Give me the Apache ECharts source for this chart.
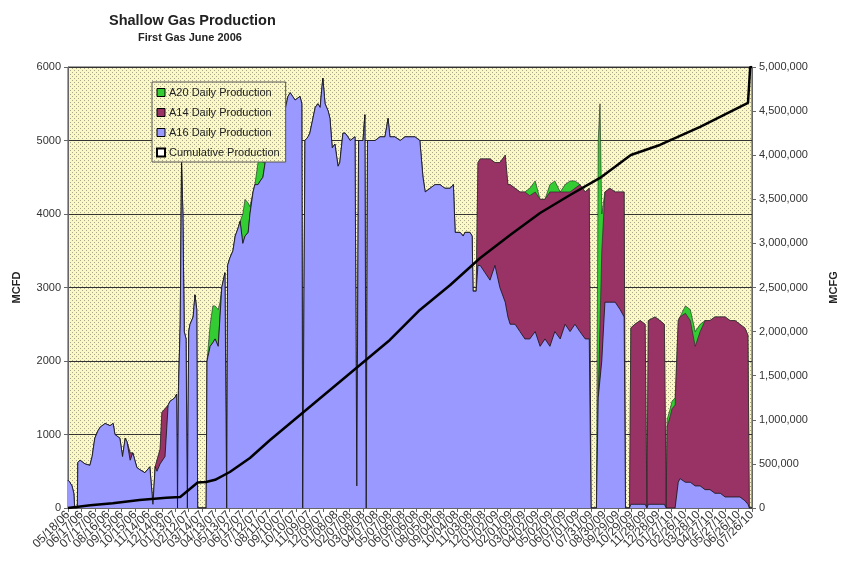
<!DOCTYPE html>
<html>
<head>
<meta charset="utf-8">
<script src="https://cdn.jsdelivr.net/npm/echarts@6/dist/echarts.min.js"></script>
<style>
  html,body{margin:0;padding:0;background:#fff;}
  #chart{width:842px;height:563px;}
</style>
</head>
<body>
<div id="chart"></div>
<script>
// x tick labels, one every 30 days from the first gas date
var tickLabels = ['05/18/06','06/17/06','07/17/06','08/16/06','09/15/06','10/15/06','11/14/06','12/14/06',
  '01/13/07','02/12/07','03/14/07','04/13/07','05/13/07','06/12/07','07/12/07','08/11/07','09/10/07',
  '10/10/07','11/09/07','12/09/07','01/08/08','02/07/08','03/08/08','04/07/08','05/07/08','06/06/08',
  '07/06/08','08/05/08','09/04/08','10/04/08','11/03/08','12/03/08','01/02/09','02/01/09','03/03/09',
  '04/02/09','05/02/09','06/01/09','07/01/09','07/31/09','08/30/09','09/29/09','10/29/09','11/28/09',
  '12/28/09','01/27/10','02/26/10','03/28/10','04/27/10','05/27/10','06/26/10','07/26/10'];

// days since 05/18/06 for each production reading
var days = [0,4,9,13,15,21,22,27,38,49,
  54,60,67,72,83,94,101,105,116,122,
  128,132,139,145,154,161,172,183,190,195,
  199,206,210,217,224,228,239,243,245,247,
  251,254,257,260,264,267,270,273,280,284,
  288,290,309,311,318,324,329,336,340,344,
  351,355,357,362,369,374,380,385,391,396,
  403,407,414,418,425,430,436,441,447,452,
  463,474,485,492,497,508,519,523,525,528,
  530,537,541,553,559,564,570,575,582,586,
  591,597,604,608,615,620,626,631,642,646,
  650,660,664,667,670,687,698,709,716,720,
  731,743,754,765,776,787,794,799,810,821,
  832,843,855,862,866,877,884,888,899,904,
  906,913,917,922,933,944,955,966,978,984,
  989,1000,1011,1022,1033,1045,1056,1067,1078,1089,
  1101,1112,1123,1134,1145,1157,1166,1170,1182,1186,
  1190,1194,1201,1212,1224,1235,1244,1247,1256,1259,
  1268,1280,1291,1295,1298,1313,1324,1334,1338,1340,
  1347,1351,1358,1365,1369,1381,1392,1403,1414,1425,
  1436,1447,1459,1470,1481,1492,1503,1514,1521,1524,
  1530];

var a16 = [380,350,300,200,0,0,620,650,600,580,
  700,950,1050,1100,1150,1120,1150,1000,950,700,
  950,900,650,750,550,520,480,560,50,560,
  500,600,600,700,1400,1450,1500,1550,0,1600,
  2500,4700,4000,2400,2300,0,2400,2500,2600,2900,
  2700,0,0,2000,2200,2250,2300,2200,2600,3000,
  3200,0,3300,3400,3500,3700,3800,3900,3600,3700,
  3750,4000,4300,4400,4400,4450,4500,4700,4900,5000,
  5200,5300,5400,5600,5650,5550,5600,5500,0,0,
  5000,5050,5100,5450,5500,5450,5850,5500,5400,5300,
  4900,4950,4650,4700,5100,5100,5050,5000,5050,300,
  5000,5000,5350,0,5000,5000,5050,5050,5300,5050,
  5050,5000,5050,5050,5050,5000,4500,4300,4350,4400,
  4400,4350,4350,4400,3750,3750,3700,3750,3750,3700,
  2950,2950,3300,3300,3200,3100,3300,3000,2800,2600,
  2500,2500,2400,2300,2300,2400,2200,2300,2200,2400,
  2300,2500,2400,2500,2400,2300,2300,0,0,1500,
  1500,2000,2800,2800,2800,2700,2600,0,0,50,
  50,50,50,0,50,50,50,50,0,0,
  0,0,0,350,400,350,350,300,300,250,
  250,200,200,150,150,150,150,100,50,0,
  0];

var a14 = [0,0,0,0,0,0,0,0,0,0,
  0,0,0,0,0,0,0,0,0,0,
  0,0,100,0,0,0,0,0,0,0,
  150,200,700,650,0,0,0,0,0,0,
  0,0,0,0,0,0,0,0,0,0,
  0,0,0,0,0,0,0,0,0,0,
  0,0,0,0,0,0,0,0,0,0,
  0,0,0,0,0,0,0,0,0,0,
  0,0,0,0,0,0,0,0,0,0,
  0,0,0,0,0,0,0,0,0,0,
  0,0,0,0,0,0,0,0,0,0,
  0,0,0,0,0,0,0,0,0,0,
  0,0,0,0,0,0,0,0,0,0,
  0,0,0,0,0,0,0,0,0,0,
  0,0,1400,1450,1550,1650,1400,1700,2000,1800,
  1900,1850,1900,2000,1950,1900,2000,1900,2100,1900,
  2000,1800,1900,1850,2000,2000,2050,0,0,0,
  0,1500,1500,1550,1500,1600,1700,0,0,2400,
  2450,2500,2450,0,2500,2550,2500,2450,0,1100,
  1250,1350,1400,2200,2200,2300,2200,1900,2100,2300,
  2300,2400,2400,2450,2400,2400,2350,2350,2300,0,
  0];

var a20 = [0,0,0,0,0,0,0,0,0,0,
  0,0,0,0,0,0,0,0,0,0,
  0,0,0,0,0,0,0,0,0,0,
  0,0,0,0,0,0,0,0,0,0,
  0,0,0,0,0,0,0,0,0,0,
  0,0,0,0,300,500,450,500,200,0,
  0,0,0,0,0,0,0,0,400,500,
  400,100,0,0,300,350,200,0,0,0,
  0,0,0,0,0,0,0,0,0,0,
  0,0,0,0,0,0,0,0,0,0,
  0,0,0,0,0,0,0,0,0,0,
  0,0,0,0,0,0,0,0,0,0,
  0,0,0,0,0,0,0,0,0,0,
  0,0,0,0,0,0,0,0,0,0,
  0,0,0,0,0,0,0,0,0,0,
  0,0,0,0,100,150,0,0,100,150,
  0,100,150,100,0,0,0,0,0,3500,
  4000,500,0,0,0,0,0,0,0,0,
  0,0,0,0,0,0,0,0,0,100,
  100,100,100,0,0,100,150,200,100,0,
  0,0,0,0,0,0,0,0,0,0,
  0];

// cumulative production (MCFG)
var cumDays = [0,50,100,160,220,251,290,309,329,362,407,452,519,586,653,720,787,855,922,989,
  1056,1123,1190,1259,1324,1414,1521,1526,1530];
var cumGas = [0,30000,55000,90000,115000,125000,290000,295000,320000,408000,567000,771000,1054000,
  1338000,1621000,1905000,2245000,2528000,2834000,3095000,3345000,3549000,3742000,4002000,4116000,
  4320000,4592000,5000000,5000000];

// stacked tops: each well is drawn from zero up to its running total, later ones on top
function stackTop(lists){
  return days.map(function(d,i){
    var s = 0;
    lists.forEach(function(l){ s += l[i]; });
    return [d, s];
  });
}

function pair(xs, ys){
  return xs.map(function(x,i){ return [x, ys[i]]; });
}

// dotted yellow fill like the excel plot area
function dots(){
  var c = document.createElement('canvas');
  c.width = 4; c.height = 4;
  var g = c.getContext('2d');
  g.fillStyle = '#fbf8c8'; g.fillRect(0,0,4,4);
  g.fillStyle = '#aaa78a';
  g.fillRect(0,0,1,1); g.fillRect(2,2,1,1);
  return {image: c, repeat: 'repeat'};
}

var myChart = echarts.init(document.getElementById('chart'));
var font = 'Arial, "Liberation Sans", sans-serif';

myChart.setOption({
  animation: false,
  title: [
    {text: 'Shallow Gas Production', left: 104, top: 8,
     textStyle: {fontFamily: font, fontSize: 14.5, fontWeight: 'bold', color: '#222'}},
    {text: 'First Gas June 2006', left: 133, top: 27,
     textStyle: {fontFamily: font, fontSize: 11, fontWeight: 'bold', color: '#222'}}
  ],
  legend: {
    orient: 'vertical',
    left: 152, top: 82, z: 20,
    padding: [4, 6, 3, 4],
    itemGap: 7,
    itemWidth: 8, itemHeight: 8,
    icon: 'rect',
    backgroundColor: dots(),
    borderColor: '#555', borderWidth: 1,
    textStyle: {fontFamily: font, fontSize: 11, color: '#222', lineHeight: 13, padding: [0,0,0,-1]},
    itemStyle: {borderColor: '#000', borderWidth: 1},
    data: [
      {name: 'A20 Daily Production'},
      {name: 'A14 Daily Production'},
      {name: 'A16 Daily Production'},
      {name: 'Cumulative Production', itemStyle: {color: '#fff', borderColor: '#000', borderWidth: 2}}
    ]
  },
  grid: {
    left: 68, right: 90, top: 67, bottom: 55,
    outerBoundsMode: 'none',
    show: true,
    backgroundColor: dots(),
    borderColor: '#444', borderWidth: 1
  },
  xAxis: [
    {
      // day scale that the readings sit on
      type: 'value', min: 0, max: 1530, show: false, position: 'bottom'
    },
    {
      // date labels every 30 days, all shown like the excel axis
      type: 'category', data: tickLabels, boundaryGap: false, position: 'bottom',
      axisLine: {lineStyle: {color: '#666'}},
      axisTick: {length: 4, interval: 0, lineStyle: {color: '#666'}},
      splitLine: {show: false},
      axisLabel: {
        interval: 0, rotate: 45, margin: 5,
        fontFamily: font, fontSize: 12, color: '#333'
      }
    }
  ],
  yAxis: [
    {
      type: 'value', min: 0, max: 6000, interval: 1000,
      name: 'MCFD', nameLocation: 'middle', nameGap: 46,
      nameTextStyle: {fontFamily: font, fontSize: 11, fontWeight: 'bold', color: '#222'},
      axisLine: {show: true, lineStyle: {color: '#666'}},
      axisTick: {show: true, length: 4},
      axisLabel: {fontFamily: font, fontSize: 11, color: '#333', margin: 7,
        formatter: function(v){ return String(v); }},
      splitLine: {show: true, lineStyle: {color: '#333', width: 1}}
    },
    {
      type: 'value', min: 0, max: 5000000, interval: 500000,
      name: 'MCFG', nameLocation: 'middle', nameGap: 76,
      nameTextStyle: {fontFamily: font, fontSize: 11, fontWeight: 'bold', color: '#222'},
      axisLine: {show: true, lineStyle: {color: '#666'}},
      axisTick: {show: true, length: 4},
      axisLabel: {fontFamily: font, fontSize: 11, color: '#333', margin: 7,
        formatter: function(v){ return v.toLocaleString('en-US'); }},
      splitLine: {show: false}
    }
  ],
  series: [
    {
      name: 'A20 Daily Production', type: 'line',
      data: stackTop([a16, a14, a20]), showSymbol: false, z: 2,
      lineStyle: {color: '#222', width: 0.6},
      itemStyle: {color: '#33cc33'},
      areaStyle: {color: '#33cc33', opacity: 1}
    },
    {
      name: 'A14 Daily Production', type: 'line',
      data: stackTop([a16, a14]), showSymbol: false, z: 3,
      lineStyle: {color: '#222', width: 0.6},
      itemStyle: {color: '#993366'},
      areaStyle: {color: '#993366', opacity: 1}
    },
    {
      name: 'A16 Daily Production', type: 'line',
      data: pair(days, a16), showSymbol: false, z: 4,
      lineStyle: {color: '#111', width: 0.8},
      itemStyle: {color: '#9999ff'},
      areaStyle: {color: '#9999ff', opacity: 1}
    },
    {
      name: 'Cumulative Production', type: 'line', yAxisIndex: 1,
      data: pair(cumDays, cumGas), showSymbol: false,
      lineStyle: {color: '#000', width: 2.5},
      itemStyle: {color: '#000'},
      z: 5
    }
  ]
});
</script>
</body>
</html>
